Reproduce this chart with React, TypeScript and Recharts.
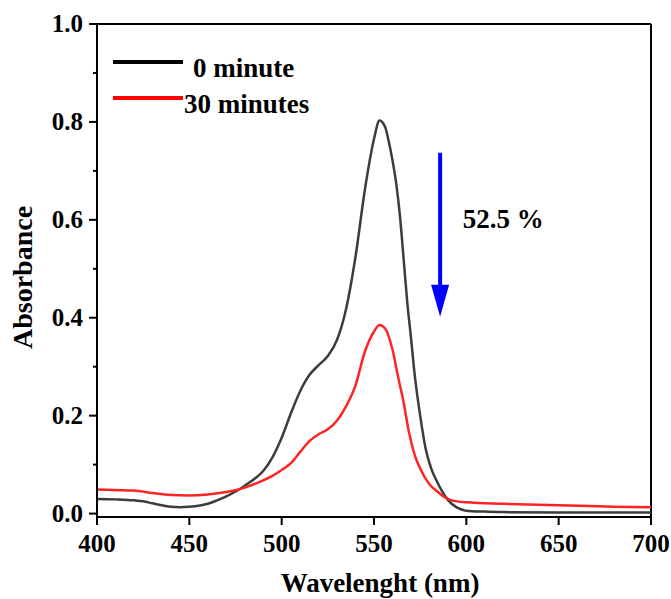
import { LineChart, Line, XAxis, YAxis, Label, ReferenceLine, ReferenceDot } from "recharts";

const SERIF = '"Liberation Serif", "Times New Roman", serif';

// 0 minute spectrum
const wl0 = [400, 410, 420, 425, 430, 435, 440, 445, 450, 455, 460, 465, 470, 475, 480, 485, 490, 495, 500, 505, 510, 515, 520, 525, 530, 535, 540, 545, 550, 553, 556, 558, 560, 562, 564, 566, 568, 570, 572, 575, 578, 581, 584, 587, 590, 595, 600, 610, 620, 650, 680, 700];
const abs0 = [0.030, 0.029, 0.027, 0.025, 0.021, 0.017, 0.014, 0.013, 0.014, 0.016, 0.020, 0.027, 0.035, 0.045, 0.057, 0.070, 0.087, 0.115, 0.155, 0.205, 0.250, 0.283, 0.303, 0.322, 0.355, 0.420, 0.525, 0.660, 0.765, 0.803, 0.790, 0.760, 0.722, 0.675, 0.610, 0.522, 0.432, 0.360, 0.285, 0.200, 0.132, 0.092, 0.066, 0.045, 0.028, 0.012, 0.006, 0.004, 0.003, 0.002, 0.002, 0.002];

// 30 minutes spectrum
const wl30 = [400, 410, 420, 430, 440, 450, 460, 470, 480, 490, 495, 500, 505, 510, 515, 520, 525, 530, 535, 540, 545, 550, 553, 556, 560, 563, 566, 569, 572, 575, 580, 584, 588, 592, 600, 620, 650, 680, 700];
const abs30 = [0.049, 0.048, 0.047, 0.042, 0.038, 0.037, 0.039, 0.044, 0.053, 0.068, 0.077, 0.089, 0.103, 0.126, 0.148, 0.162, 0.172, 0.190, 0.220, 0.262, 0.330, 0.372, 0.385, 0.378, 0.335, 0.280, 0.228, 0.165, 0.120, 0.092, 0.060, 0.046, 0.034, 0.027, 0.023, 0.020, 0.017, 0.014, 0.013];

const seriesNames = ["0 minute", "30 minutes"];
const seriesColors = ["#3c3c3c", "#ff2424"];
const legendColors = ["#000000", "#ff0000"];

const xTicks = [400, 450, 500, 550, 600, 650, 700];
const yTicks = [0, 0.1, 0.2, 0.3, 0.4, 0.5, 0.6, 0.7, 0.8, 0.9, 1.0];

const arrowX = 585.8;
const arrowTop = 0.737;
const arrowTip = 0.402;
const dropText = "52.5 %";
const dropTextPos = { x: 598, y: 0.583 };

const data0 = wl0.map((w, i) => ({ wl: w, abs: abs0[i] }));
const data30 = wl30.map((w, i) => ({ wl: w, abs: abs30[i] }));

const YTick = (props: any) => {
  const { x, y, payload } = props;
  const v = payload.value;
  const major = Math.round(v * 10) % 2 === 0;
  return (
    <g>
      <line x1={x - (major ? 8 : 4)} x2={x} y1={y} y2={y} stroke="#000" strokeWidth={2} />
      {major && (
        <text x={x - 14} y={y + 8} textAnchor="end" fontFamily={SERIF} fontWeight="bold" fontSize={25} fill="#000">
          {v.toFixed(1)}
        </text>
      )}
    </g>
  );
};

const XTick = (props: any) => {
  const { x, y, payload } = props;
  return (
    <g>
      <line x1={x} x2={x} y1={y} y2={y + 8} stroke="#000" strokeWidth={2} />
      <text x={x} y={y + 35} textAnchor="middle" fontFamily={SERIF} fontWeight="bold" fontSize={25} fill="#000">
        {payload.value}
      </text>
    </g>
  );
};

const XTitle = (props: any) => {
  const { x, y, width } = props.viewBox;
  return (
    <text x={x + width / 2 + 6} y={y + 75} textAnchor="middle" fontFamily={SERIF} fontWeight="bold" fontSize={27} fill="#000">
      Wavelenght (nm)
    </text>
  );
};

const YTitle = (props: any) => {
  const { x, y, height } = props.viewBox;
  const cx = x + 32;
  const cy = y + height / 2 + 7;
  return (
    <text x={cx} y={cy} transform={`rotate(-90 ${cx} ${cy})`} textAnchor="middle" fontFamily={SERIF} fontWeight="bold" fontSize={28} fill="#000">
      Absorbance
    </text>
  );
};

const legendTextX = [80, 71];

const LegendBox = () => (
  <svg width={240} height={80} style={{ position: "absolute", left: 113, top: 52 }}>
    {seriesNames.map((name, i) => (
      <g key={name}>
        <line x1={0} x2={70} y1={10 + i * 36} y2={10 + i * 36} stroke={legendColors[i]} strokeWidth={4} />
        <text x={legendTextX[i]} y={25 + i * 36} fontFamily={SERIF} fontWeight="bold" fontSize={27} fill="#000">
          {name}
        </text>
      </g>
    ))}
  </svg>
);

const Arrow = (props: any) => {
  const { x1, y1, y2 } = props;
  const head = 32;
  return (
    <g>
      <line x1={x1} x2={x1} y1={y1} y2={y2 - head + 2} stroke="#0000ff" strokeWidth={4} />
      <polygon points={`${x1 - 9},${y2 - head} ${x1 + 9},${y2 - head} ${x1},${y2}`} fill="#0000ff" />
    </g>
  );
};

const DropLabel = (props: any) => (
  <text x={props.cx} y={props.cy} fontFamily={SERIF} fontWeight="bold" fontSize={27} fill="#000">
    {dropText}
  </text>
);

export default function App() {
  return (
    <div style={{ position: "absolute", left: 0, top: 0, width: 671, height: 599, background: "#fff" }}>
      <LineChart width={671} height={599} margin={{ top: 24, right: 20, bottom: 0, left: 0 }}>
        <XAxis
          dataKey="wl"
          type="number"
          domain={[400, 700]}
          ticks={xTicks}
          height={82}
          allowDataOverflow
          stroke="#000"
          strokeWidth={2}
          tickSize={0}
          tickMargin={0}
          tick={<XTick />}
        >
          <Label content={<XTitle />} />
        </XAxis>
        <YAxis
          type="number"
          domain={[-0.007, 1.0]}
          ticks={yTicks}
          width={97}
          allowDataOverflow
          stroke="#000"
          strokeWidth={2}
          tickSize={0}
          tickMargin={0}
          tick={<YTick />}
        >
          <Label content={<YTitle />} />
        </YAxis>
        <ReferenceLine y={1.0} stroke="#000" strokeWidth={2} />
        <ReferenceLine x={700} stroke="#000" strokeWidth={2} />
        <Line data={data0} dataKey="abs" name={seriesNames[0]} type="monotone" stroke={seriesColors[0]} strokeWidth={2.5} dot={false} isAnimationActive={false} />
        <Line data={data30} dataKey="abs" name={seriesNames[1]} type="monotone" stroke={seriesColors[1]} strokeWidth={2.5} dot={false} isAnimationActive={false} />
        <ReferenceLine
          segment={[{ x: arrowX, y: arrowTop }, { x: arrowX, y: arrowTip }]}
          shape={<Arrow />}
        />
        <ReferenceDot x={dropTextPos.x} y={dropTextPos.y} r={0} shape={<DropLabel />} />
      </LineChart>
      <LegendBox />
    </div>
  );
}
